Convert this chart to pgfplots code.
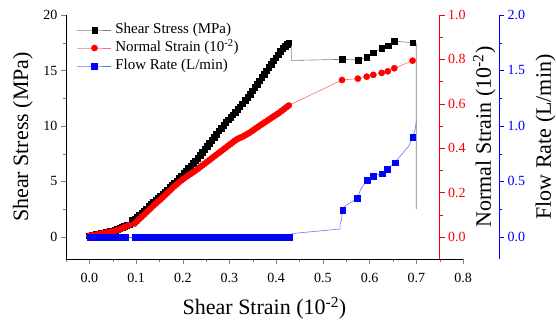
\documentclass[border=0pt]{standalone}
\usepackage{fontspec}
\setmainfont{Liberation Serif}
\usepackage{pgfplots}
\usepackage{pgfplotstable}
\pgfplotsset{compat=1.18}

\definecolor{linegray}{RGB}{128,128,128}
\definecolor{linered}{RGB}{255,110,110}
\definecolor{lineblue}{RGB}{110,110,255}

\pgfplotstableread{
x y
0.000 0.10
0.005 0.15
0.010 0.18
0.015 0.22
0.020 0.27
0.025 0.32
0.030 0.37
0.035 0.42
0.040 0.47
0.045 0.52
0.050 0.57
0.055 0.63
0.060 0.70
0.065 0.78
0.070 0.86
0.075 0.95
0.080 1.03
0.085 1.10
0.092 1.50
0.097 1.65
0.102 1.80
0.107 1.97
0.112 2.15
0.117 2.35
0.122 2.55
0.127 2.75
0.132 2.93
0.137 3.12
0.142 3.30
0.147 3.48
0.152 3.67
0.157 3.87
0.162 4.07
0.167 4.27
0.172 4.47
0.177 4.67
0.182 4.87
0.187 5.07
0.192 5.28
0.197 5.50
0.202 5.72
0.207 5.95
0.212 6.18
0.217 6.40
0.222 6.65
0.227 6.88
0.232 7.10
0.237 7.38
0.242 7.65
0.247 7.92
0.252 8.18
0.257 8.45
0.262 8.72
0.267 9.00
0.272 9.28
0.277 9.56
0.282 9.82
0.287 10.08
0.292 10.34
0.297 10.58
0.302 10.80
0.307 11.02
0.312 11.26
0.317 11.50
0.322 11.75
0.327 12.00
0.334 12.30
0.339 12.58
0.344 12.88
0.349 13.18
0.354 13.48
0.359 13.78
0.364 14.08
0.369 14.38
0.374 14.68
0.379 14.98
0.384 15.28
0.389 15.58
0.394 15.88
0.399 16.16
0.404 16.44
0.409 16.72
0.414 17.00
0.419 17.22
0.424 17.40
0.427 17.50
}\blackA

\pgfplotstableread{
x y
0.541 16.00
0.576 15.95
0.594 16.20
0.608 16.60
0.626 17.00
0.639 17.25
0.653 17.65
0.692 17.50
}\blackB

\pgfplotstableread{
x y
0.000 0.004
0.005 0.006
0.010 0.008
0.015 0.010
0.020 0.012
0.025 0.014
0.030 0.016
0.035 0.018
0.040 0.020
0.045 0.022
0.050 0.024
0.055 0.027
0.060 0.030
0.065 0.034
0.070 0.038
0.075 0.043
0.080 0.048
0.085 0.053
0.097 0.060
0.102 0.070
0.107 0.080
0.112 0.090
0.117 0.100
0.122 0.110
0.127 0.120
0.132 0.130
0.137 0.140
0.142 0.150
0.147 0.159
0.152 0.168
0.157 0.178
0.162 0.188
0.167 0.198
0.172 0.208
0.177 0.218
0.182 0.228
0.187 0.237
0.192 0.246
0.197 0.254
0.202 0.262
0.207 0.270
0.212 0.277
0.217 0.284
0.222 0.291
0.227 0.298
0.232 0.306
0.237 0.314
0.242 0.322
0.247 0.330
0.252 0.338
0.257 0.346
0.262 0.354
0.267 0.362
0.272 0.370
0.277 0.378
0.282 0.386
0.287 0.394
0.292 0.402
0.297 0.410
0.302 0.418
0.307 0.426
0.312 0.434
0.317 0.441
0.322 0.446
0.327 0.450
0.332 0.456
0.337 0.462
0.342 0.468
0.347 0.475
0.352 0.482
0.357 0.490
0.362 0.497
0.367 0.504
0.372 0.511
0.377 0.518
0.382 0.525
0.387 0.532
0.392 0.539
0.397 0.546
0.402 0.553
0.407 0.560
0.412 0.568
0.417 0.576
0.422 0.584
0.427 0.592
0.541 0.707
0.575 0.713
0.594 0.722
0.608 0.730
0.626 0.739
0.639 0.746
0.653 0.760
0.692 0.794
}\redA

\pgfplotstableread{
x y
0.001 0
0.011 0
0.021 0
0.031 0
0.041 0
0.051 0
0.061 0
0.071 0
0.077 0
0.097 0
0.107 0
0.117 0
0.127 0
0.137 0
0.147 0
0.157 0
0.167 0
0.177 0
0.187 0
0.197 0
0.207 0
0.217 0
0.227 0
0.237 0
0.247 0
0.257 0
0.267 0
0.277 0
0.287 0
0.297 0
0.307 0
0.317 0
0.327 0
0.337 0
0.347 0
0.357 0
0.367 0
0.377 0
0.387 0
0.397 0
0.407 0
0.417 0
0.427 0
}\blueA

\pgfplotstableread{
x y
0.427 0
0.435 0.03
0.537 0.07
0.537 0.12
0.540 0.16
0.542 0.24
0.548 0.28
0.560 0.31
0.574 0.35
0.580 0.42
0.594 0.51
0.608 0.55
0.626 0.57
0.638 0.61
0.654 0.67
0.664 0.72
0.674 0.77
0.684 0.82
0.692 0.90
0.697 0.96
0.700 1.04
}\blueLine

\pgfplotstableread{
x y
0.542 0.24
0.574 0.35
0.594 0.51
0.608 0.55
0.626 0.57
0.638 0.61
0.654 0.67
0.692 0.90
}\blueB

\pgfplotsset{
  base/.style={
    scale only axis, height=244pt,
    tick align=outside,
    major tick length=5pt, minor tick length=3pt,
    /pgf/number format/assume math mode=true,
    tick label style={font=\rmfamily\fontsize{14}{16}\selectfont},
    label style={font=\rmfamily\fontsize{22}{26}\selectfont},
    axis line style={-},
    clip=false,
  },
  sblack/.style={color=linegray, line width=0.6pt, mark=square*, mark size=2.8pt,
    mark options={solid, draw=black, fill=black, line width=0.2pt}},
  sred/.style={color=linered, line width=0.6pt, mark=*, mark size=3.2pt,
    mark options={solid, draw=red, fill=red, line width=0.2pt}},
  sblue/.style={color=lineblue, line width=0.6pt, mark=square*, mark size=2.9pt,
    mark options={solid, draw=blue, fill=blue, line width=0.2pt}},
}

\begin{document}
\begin{tikzpicture}
\begin{axis}[base, width=397pt,
  xmin=-0.05, xmax=0.8, ymin=-2, ymax=20,
  axis x line*=bottom, axis y line*=left,
  xtick={0,0.1,0.2,0.3,0.4,0.5,0.6,0.7,0.8},
  minor xtick={-0.05,0.05,0.15,0.25,0.35,0.45,0.55,0.65,0.75},
  xticklabel style={yshift=-6pt, /pgf/number format/.cd,fixed,fixed zerofill,precision=1},
  ytick={0,5,10,15,20}, minor ytick={2.5,7.5,12.5,17.5},
  xlabel={Shear Strain (10\textsuperscript{-2})},
  ylabel={Shear Stress (MPa)},
  xlabel style={at={(axis description cs:0.5,0)}, anchor=base, yshift=-56pt},
  ylabel style={at={(axis description cs:-0.0957,0.5)}, anchor=base},
  legend cell align=left,
  legend style={at={(rel axis cs:0.0277,0.968)}, anchor=north west, draw=none, fill=none,
    font=\rmfamily\fontsize{15}{17}\selectfont, row sep=4pt, inner sep=0pt, column sep=3pt,
    nodes={font=\rmfamily\fontsize{15}{17}\selectfont, inner sep=0.5pt, text height=10pt, text depth=3pt}},
  legend image code/.code={\draw[mark repeat=2,mark phase=2,#1] plot coordinates {(0pt,0pt) (17pt,0pt) (34pt,0pt)};},
]
\addlegendimage{sblack}
\addlegendentry{Shear Stress (MPa)}
\addlegendimage{sred}
\addlegendentry{Normal Strain (10\textsuperscript{-2})}
\addlegendimage{sblue}
\addlegendentry{Flow Rate (L/min)}
\addplot[color=linegray, line width=0.6pt, forget plot] coordinates {(0.427,17.5) (0.433,17.5) (0.433,15.9) (0.541,16.0)};
\addplot[color=linegray, line width=0.8pt, forget plot] coordinates {(0.692,17.5) (0.700,17.4) (0.700,2.5)};
\addplot[sblack, forget plot] table {\blackA};
\addplot[sblack, forget plot] table {\blackB};
\end{axis}

\begin{axis}[base, width=373.6pt,
  xmin=-0.05, xmax=0.75, ymin=-0.1, ymax=1.0,
  axis x line=none, axis y line*=right,
  y axis line style={draw=red},
  ytick style={draw=red},
  yticklabel style={text=red, /pgf/number format/.cd,fixed,fixed zerofill,precision=1},
  ytick={0,0.2,0.4,0.6,0.8,1.0}, minor ytick={0.1,0.3,0.5,0.7,0.9},
  ylabel={Normal Strain (10\textsuperscript{-2})},
  ylabel style={at={(axis description cs:1.137,0.5)}, anchor=base, rotate=0},
]
\addplot[color=linered, line width=0.6pt] coordinates {(0.692,0.794) (0.700,0.800)};
\addplot[sred] table {\redA};
\end{axis}

\begin{axis}[base, width=433pt,
  xmin=-0.05, xmax=0.877, ymin=-0.2, ymax=2.0,
  axis x line=none, axis y line*=right,
  y axis line style={draw=blue},
  ytick style={draw=blue},
  yticklabel style={text=blue, /pgf/number format/.cd,fixed,fixed zerofill,precision=1},
  ytick={0,0.5,1.0,1.5,2.0}, minor ytick={0.25,0.75,1.25,1.75},
  ylabel={Flow Rate (L/min)},
  ylabel style={at={(axis description cs:1.120,0.5)}, anchor=base, rotate=0},
]
\addplot[color=lineblue, line width=0.6pt] table {\blueLine};
\addplot[sblue] table {\blueA};
\addplot[sblue, only marks] table {\blueB};
\end{axis}
\pgfresetboundingbox
\path[use as bounding box] (-66pt,-64pt) rectangle (490pt,259pt);
\end{tikzpicture}
\end{document}
